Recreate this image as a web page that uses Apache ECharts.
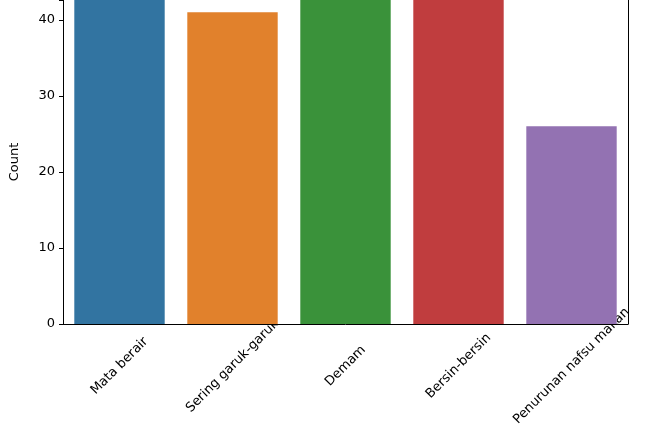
<!DOCTYPE html>
<html>
<head>
<meta charset="utf-8">
<script src="https://cdn.jsdelivr.net/npm/echarts@6/dist/echarts.min.js"></script>
<style>html,body{margin:0;padding:0;background:#fff}#c{width:650px;height:434px}</style>
</head>
<body>
<div id="c"></div>
<script>
// data
const categories = ['Mata berair', 'Sering garuk-garuk', 'Demam', 'Bersin-bersin', 'Penurunan nafsu makan']
const counts = [47, 41, 48, 46, 26]
const colors = ['#3274a1', '#e1812c', '#3a923a', '#c03d3e', '#9372b2']
const yTicks = [0, 10, 20, 30, 40]

const chart = echarts.init(document.getElementById('c'))
chart.setOption({
  animation: false,
  backgroundColor: '#fff',
  textStyle: { fontFamily: 'DejaVu Sans' },
  grid: { left: 60, right: 22, top: 0, bottom: 110 },
  xAxis: {
    type: 'category',
    data: categories,
    axisLine: { lineStyle: { color: '#000' } },
    axisTick: { alignWithLabel: true, length: 4, lineStyle: { color: '#000' } },
    axisLabel: { rotate: 45, color: '#000', fontSize: 13, interval: 0, margin: 42, align: 'center', verticalAlign: 'middle' }
  },
  yAxis: [{
    type: 'value',
    min: 0, max: 42.6, interval: 10,
    name: 'Count',
    nameLocation: 'middle',
    nameGap: 42,
    nameTextStyle: { color: '#000', fontSize: 13 },
    splitLine: { show: false },
    axisLine: { show: true, lineStyle: { color: '#000' } },
    axisTick: { show: true, length: 4, lineStyle: { color: '#000' } },
    axisLabel: { color: '#000', fontSize: 13, formatter: v => yTicks.includes(v) ? v : '' }
  }, {
    type: 'value', position: 'right', min: 0, max: 42.6,
    axisLine: { show: true, lineStyle: { color: '#000' } },
    axisTick: { show: false }, axisLabel: { show: false }, splitLine: { show: false }
  }],
  series: [{
    type: 'bar',
    barCategoryGap: '20%',
    data: counts.map((v, i) => ({ value: v, itemStyle: { color: colors[i] } }))
  }]
})
</script>
</body>
</html>
